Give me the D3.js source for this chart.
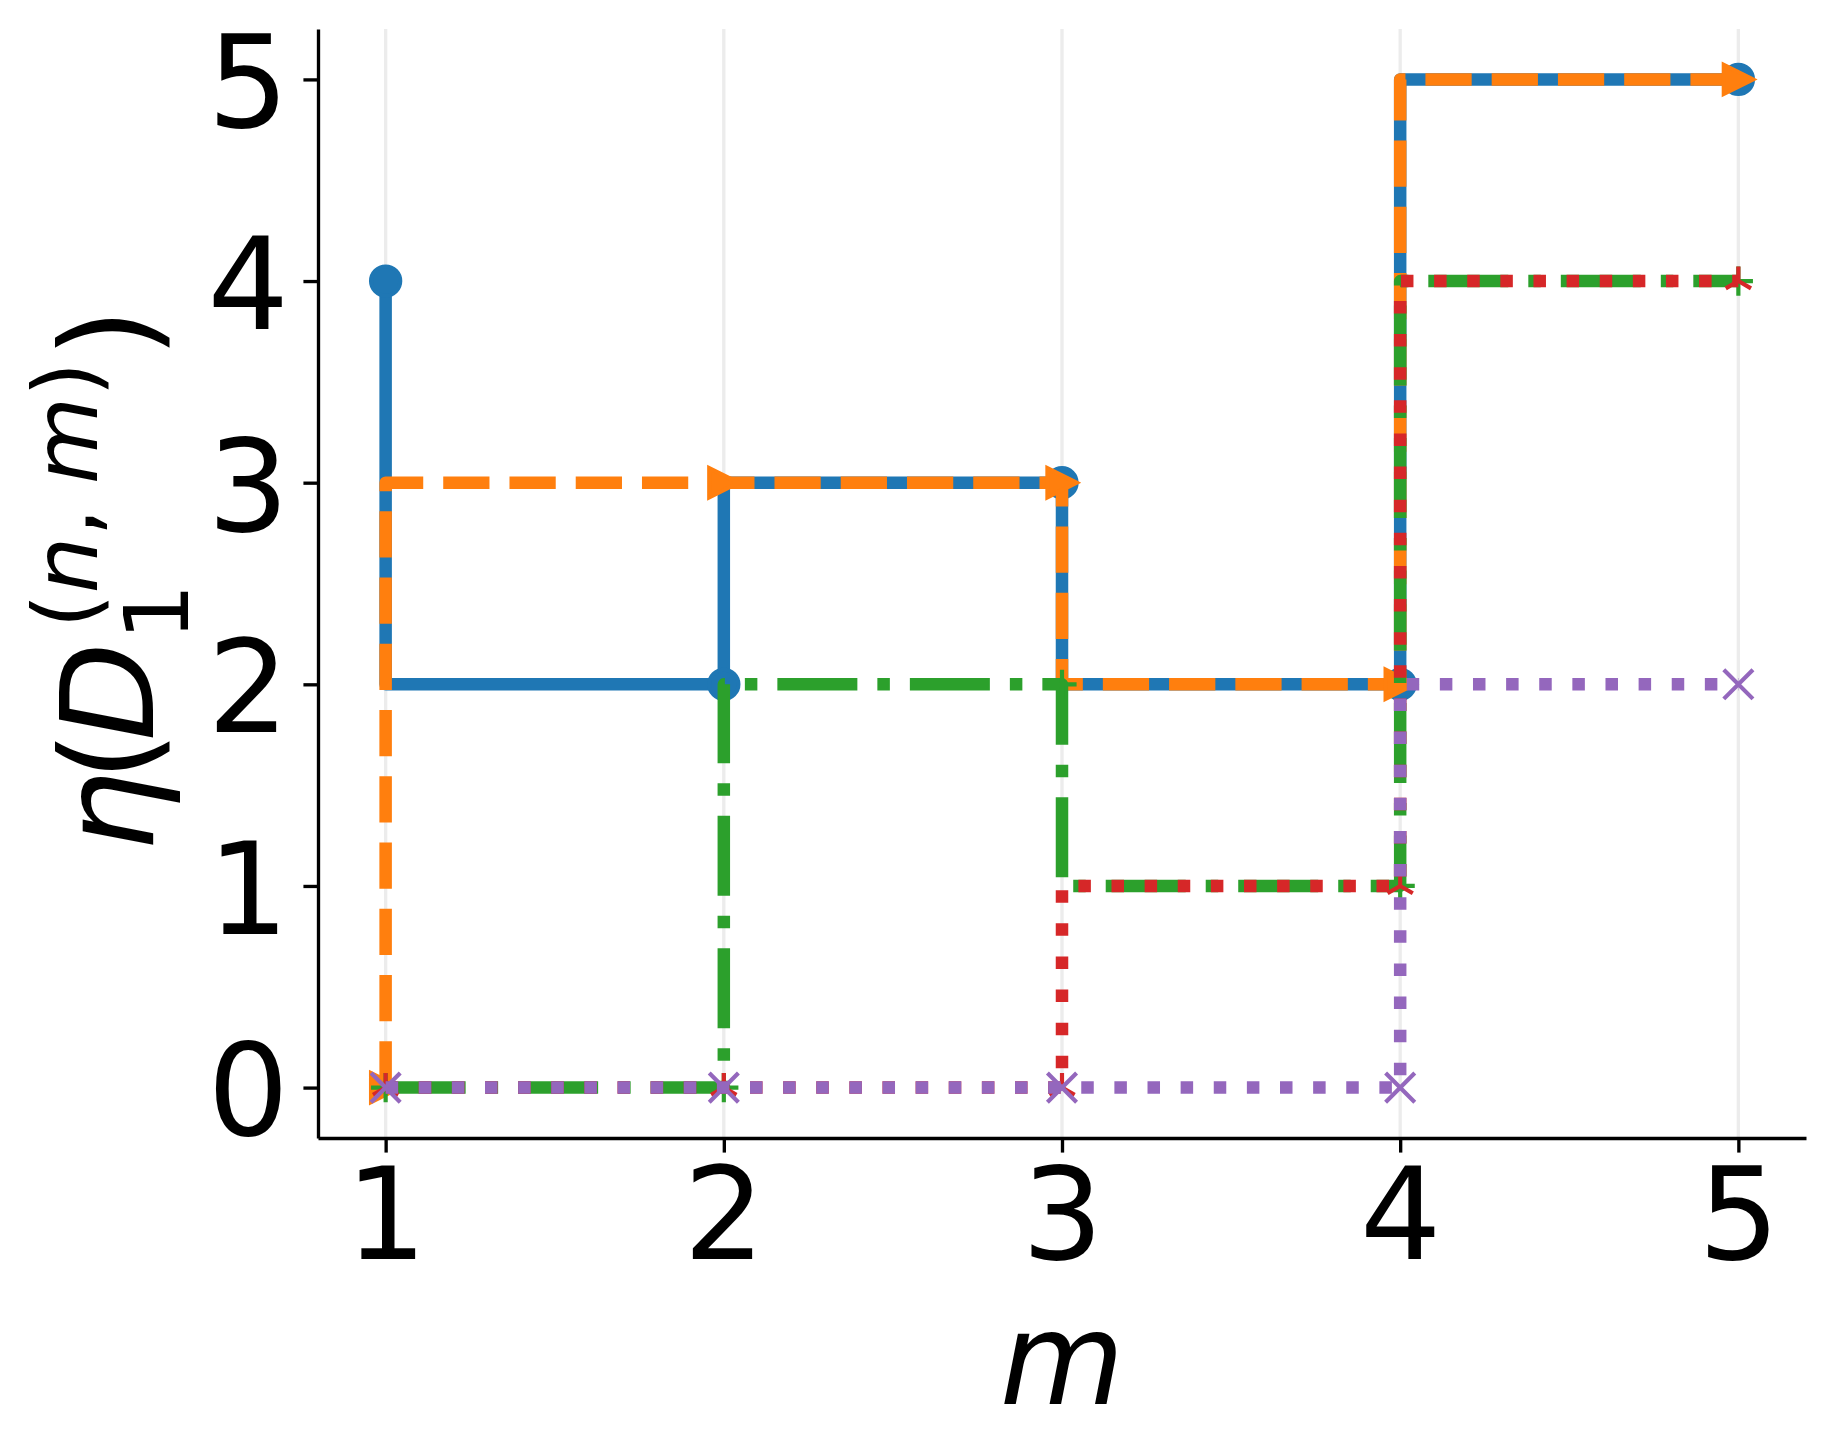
<!DOCTYPE html>
<html>
<head>
<meta charset="utf-8">
<script src="https://cdn.jsdelivr.net/npm/d3@7"></script>
<style>
  html, body { margin: 0; padding: 0; background: #fff; }
  svg { display: block; }
</style>
</head>
<body>
<svg id="chart" width="1835" height="1456"></svg>
<script>
// ---------------- data ----------------
const mValues      = [1, 2, 3, 4, 5];
const xTickValues  = [1, 2, 3, 4, 5];
const yTickValues  = [0, 1, 2, 3, 4, 5];
const seriesBlue   = [4, 2, 3, 2, 5];
const seriesOrange = [0, 3, 3, 2, 5];
const seriesGreen  = [0, 0, 2, 1, 4];
const seriesRed    = [0, 0, 0, 1, 4];
const seriesPurple = [0, 0, 0, 0, 2];
const xLabelText   = "m";

// ---------------- styles ----------------
const PX = 300 / 72;            // points -> pixels (300 dpi)
const LW = 3 * PX;              // line width
const MS = 7 * PX;              // marker size
const MEW = 1 * PX;             // marker edge width
const HALF = MS / 2;
const FONT = "DejaVu Sans";
const FS = 128;

const styles = [
  { values: seriesBlue,   color: "#1f77b4", dash: null,                                         marker: "circle" },
  { values: seriesOrange, color: "#ff7f0e", dash: [3.7, 1.6].map(d => d * LW),                  marker: "triRight" },
  { values: seriesGreen,  color: "#2ca02c", dash: [6.4, 1.6, 1, 1.6].map(d => d * LW),          marker: "plus" },
  { values: seriesRed,    color: "#d62728", dash: [1, 1.65].map(d => d * LW),                   marker: "tri_up" },
  { values: seriesPurple, color: "#9467bd", dash: [1, 1.65].map(d => d * LW),                   marker: "x" }
];

const svg = d3.select("#chart");
const x = d3.scaleLinear().domain([0.8, 5.2]).range([318, 1806]);
const y = d3.scaleLinear().domain([-0.25, 5.25]).range([1138, 29]);

// grid (vertical only)
svg.append("g").selectAll("line").data(xTickValues).join("line")
  .attr("x1", d => x(d)).attr("x2", d => x(d))
  .attr("y1", y(5.25)).attr("y2", y(-0.25))
  .attr("stroke", "#ececec").attr("stroke-width", 0.8 * PX);

// series
const lineGen = d3.line().x(d => x(d[0])).y(d => y(d[1])).curve(d3.curveStepBefore);
const markerPaths = {
  circle: d3.symbol(d3.symbolCircle, Math.PI * HALF * HALF)(),
  triRight: `M${HALF},0L${-HALF},${-HALF}L${-HALF},${HALF}Z`,
  plus: `M${-HALF},0H${HALF}M0,${-HALF}V${HALF}`,
  x: `M${-HALF},${-HALF}L${HALF},${HALF}M${-HALF},${HALF}L${HALF},${-HALF}`,
  tri_up: `M0,0V${-HALF}M0,0L${-0.866 * HALF},${0.5 * HALF}M0,0L${0.866 * HALF},${0.5 * HALF}`
};
const filled = { circle: true, triRight: true };

const plot = svg.append("g");
styles.forEach(s => {
  const pts = mValues.map((m, i) => [m, s.values[i]]);
  const g = plot.append("g");
  g.append("path")
    .attr("d", lineGen(pts))
    .attr("fill", "none")
    .attr("stroke", s.color)
    .attr("stroke-width", LW)
    .attr("stroke-linejoin", "round")
    .attr("stroke-linecap", s.dash ? "butt" : "square")
    .attr("stroke-dasharray", s.dash ? s.dash.join(",") : null);
  g.selectAll("path.mk").data(pts).join("path")
    .attr("class", "mk")
    .attr("transform", d => `translate(${x(d[0])},${y(d[1])})`)
    .attr("d", markerPaths[s.marker])
    .attr("fill", filled[s.marker] ? s.color : "none")
    .attr("stroke", s.color)
    .attr("stroke-width", MEW)
    .attr("stroke-linejoin", "miter");
});

// axes
const xAxis = d3.axisBottom(x).tickValues(xTickValues).tickFormat(d3.format("d"))
  .tickSize(3.5 * PX).tickSizeOuter(0).tickPadding(3.5 * PX);
const yAxis = d3.axisLeft(y).tickValues(yTickValues).tickFormat(d3.format("d"))
  .tickSize(3.5 * PX).tickSizeOuter(0).tickPadding(3.5 * PX);

const gx = svg.append("g").attr("transform", `translate(0,${y(-0.25)})`).call(xAxis);
const gy = svg.append("g").attr("transform", `translate(${x(0.8)},0)`).call(yAxis);
[gx, gy].forEach(g => {
  g.selectAll("path.domain").attr("stroke", "#000").attr("stroke-width", 0.8 * PX);
  g.selectAll(".tick line").attr("stroke", "#000").attr("stroke-width", 0.8 * PX);
  g.selectAll(".tick text").attr("font-family", FONT).attr("font-size", FS).attr("fill", "#000");
});
gy.selectAll(".tick text").attr("dy", "0.37em");
gx.selectAll(".tick text").attr("dy", "0.72em");

// x label
svg.append("text")
  .attr("x", (x(0.8) + x(5.2)) / 2).attr("y", 1404)
  .attr("text-anchor", "middle")
  .attr("font-family", FONT).attr("font-size", FS).attr("font-style", "italic")
  .text(xLabelText);

// y label: η(D_1^{(n,m)})
const SFS = FS * 0.7;
const yl = svg.append("g");
const main = yl.append("text").attr("font-family", FONT).attr("font-size", FS).attr("x", 0).attr("y", 0);
main.append("tspan").attr("font-style", "italic").attr("letter-spacing", -10).text("η");
main.append("tspan").attr("letter-spacing", -10).text("(");
main.append("tspan").attr("font-style", "italic").text("D");
const a = main.node().getComputedTextLength();
const sub = yl.append("text").attr("font-family", FONT).attr("font-size", SFS)
  .attr("x", a + 2).attr("y", 35).text("1");
const sup = yl.append("text").attr("font-family", FONT).attr("font-size", SFS)
  .attr("x", a + 14).attr("y", -56);
sup.append("tspan").text("(");
sup.append("tspan").attr("font-style", "italic").text("n");
sup.append("tspan").text(",");
sup.append("tspan").attr("font-style", "italic").attr("dx", 24).text("m");
sup.append("tspan").text(")");
const supEnd = a + 14 + sup.node().getComputedTextLength() + 24;
const subEnd = a + 2 + sub.node().getComputedTextLength();
const b = Math.max(supEnd, subEnd) + 4;
yl.append("text").attr("font-family", FONT).attr("font-size", FS)
  .attr("x", b).attr("y", 0).text(")");
yl.attr("transform", `translate(153,852) rotate(-90)`);
</script>
</body>
</html>
